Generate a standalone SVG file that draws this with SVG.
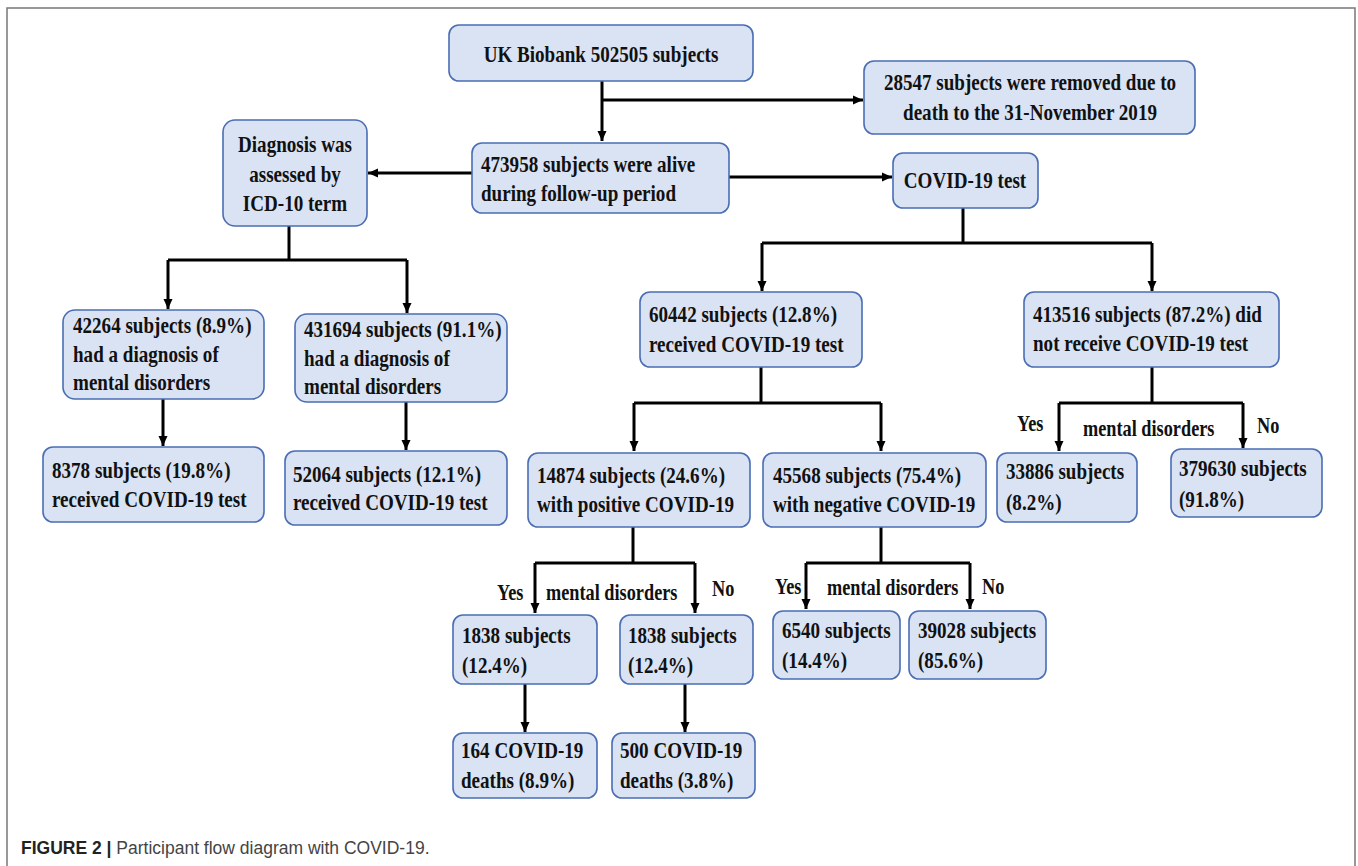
<svg xmlns="http://www.w3.org/2000/svg" width="1358" height="866" viewBox="0 0 1358 866">
<style>
.box{fill:#dae3f3;stroke:#4a6db3;stroke-width:1.6}
.t{font-family:"Liberation Serif","Times New Roman",serif;font-weight:bold;font-size:24px;fill:#111}
.l{font-family:"Liberation Serif","Times New Roman",serif;font-weight:bold;font-size:23px;fill:#111}
.c{text-anchor:middle}
.ln{fill:none;stroke:#000;stroke-width:3}
.ar{marker-end:url(#ah)}
</style>
<defs>
<marker id="ah" markerUnits="userSpaceOnUse" markerWidth="11" markerHeight="10" refX="10" refY="5" orient="auto">
<path d="M0,0.5 L10,5 L0,9.5 z" fill="#000"/>
</marker>
</defs>
<rect width="1358" height="866" fill="#fff"/>
<path d="M7,866 V8 H1355 V866" fill="none" stroke="#777" stroke-width="1.5"/>

<g id="connectors">
<path class="ln ar" d="M602,81 V141"/>
<path class="ln ar" d="M602,100 H863"/>
<path class="ln ar" d="M472,173 H368"/>
<path class="ln ar" d="M729,177 H892"/>
<path class="ln" d="M289,226 V260"/>
<path class="ln" d="M168,260 H407"/>
<path class="ln ar" d="M168,260 V309"/>
<path class="ln ar" d="M407,260 V313"/>
<path class="ln ar" d="M163,399 V446"/>
<path class="ln ar" d="M406,402 V450"/>
<path class="ln" d="M963,208 V243"/>
<path class="ln" d="M762,243 H1152"/>
<path class="ln ar" d="M762,243 V291"/>
<path class="ln ar" d="M1152,243 V291"/>
<path class="ln" d="M761,367 V403"/>
<path class="ln" d="M634,403 H881"/>
<path class="ln ar" d="M634,403 V451"/>
<path class="ln ar" d="M881,403 V451"/>
<path class="ln" d="M1152,367 V403"/>
<path class="ln" d="M1059,403 H1243"/>
<path class="ln ar" d="M1059,403 V451"/>
<path class="ln ar" d="M1243,403 V448"/>
<path class="ln" d="M633,527 V563"/>
<path class="ln" d="M535,563 H695"/>
<path class="ln ar" d="M535,563 V613"/>
<path class="ln ar" d="M695,563 V613"/>
<path class="ln" d="M881,527 V563"/>
<path class="ln" d="M806,563 H970"/>
<path class="ln ar" d="M806,563 V609"/>
<path class="ln ar" d="M970,563 V609"/>
<path class="ln ar" d="M525,684 V732"/>
<path class="ln ar" d="M685,684 V732"/>
<text class="l" transform="matrix(0.795 0 0 1 1017 431)">Yes</text>
<text class="l" transform="matrix(0.795 0 0 1 1083 436)">mental disorders</text>
<text class="l" transform="matrix(0.795 0 0 1 1257 433)">No</text>
<text class="l" transform="matrix(0.795 0 0 1 497 600)">Yes</text>
<text class="l" transform="matrix(0.795 0 0 1 546 600)">mental disorders</text>
<text class="l" transform="matrix(0.795 0 0 1 712 596)">No</text>
<text class="l" transform="matrix(0.795 0 0 1 775 594)">Yes</text>
<text class="l" transform="matrix(0.795 0 0 1 827 595)">mental disorders</text>
<text class="l" transform="matrix(0.795 0 0 1 982 594)">No</text>
</g>

<g id="n-ukb">
<rect class="box" x="449" y="25" width="304" height="56" rx="10"/>
<text class="t c" transform="matrix(0.795 0 0 1 601 62)">UK Biobank 502505 subjects</text>
</g>
<g id="n-removed">
<rect class="box" x="864" y="61" width="331" height="73" rx="10"/>
<text class="t c" transform="matrix(0.795 0 0 1 1030 90)"><tspan x="0" y="0">28547 subjects were removed due to</tspan><tspan x="0" y="30">death to the 31-November 2019</tspan></text>
</g>
<g id="n-alive">
<rect class="box" x="472" y="143" width="257" height="70" rx="10"/>
<text class="t" transform="matrix(0.795 0 0 1 481 172)"><tspan x="0" y="0">473958 subjects were alive</tspan><tspan x="0" y="29">during follow-up period</tspan></text>
</g>
<g id="n-diag">
<rect class="box" x="223" y="120" width="144" height="106" rx="12"/>
<text class="t c" transform="matrix(0.795 0 0 1 295 152)"><tspan x="0" y="0">Diagnosis was</tspan><tspan x="0" y="30">assessed by</tspan><tspan x="0" y="59">ICD-10 term</tspan></text>
</g>
<g id="n-covidtest">
<rect class="box" x="893" y="153" width="145" height="55" rx="10"/>
<text class="t c" transform="matrix(0.795 0 0 1 965 188)">COVID-19 test</text>
</g>
<g id="n-42264">
<rect class="box" x="63" y="310" width="201" height="89" rx="12"/>
<text class="t" transform="matrix(0.795 0 0 1 73 333)"><tspan x="0" y="0">42264 subjects (8.9%)</tspan><tspan x="0" y="29">had a diagnosis of</tspan><tspan x="0" y="57">mental disorders</tspan></text>
</g>
<g id="n-431694">
<rect class="box" x="295" y="314" width="212" height="88" rx="12"/>
<text class="t" transform="matrix(0.795 0 0 1 304 337)"><tspan x="0" y="0">431694 subjects (91.1%)</tspan><tspan x="0" y="29">had a diagnosis of</tspan><tspan x="0" y="57">mental disorders</tspan></text>
</g>
<g id="n-8378">
<rect class="box" x="43" y="447" width="221" height="75" rx="10"/>
<text class="t" transform="matrix(0.795 0 0 1 52 478)"><tspan x="0" y="0">8378 subjects (19.8%)</tspan><tspan x="0" y="29">received COVID-19 test</tspan></text>
</g>
<g id="n-52064">
<rect class="box" x="285" y="451" width="222" height="74" rx="10"/>
<text class="t" transform="matrix(0.795 0 0 1 293 482)"><tspan x="0" y="0">52064 subjects (12.1%)</tspan><tspan x="0" y="28">received COVID-19 test</tspan></text>
</g>
<g id="n-60442">
<rect class="box" x="640" y="292" width="222" height="75" rx="10"/>
<text class="t" transform="matrix(0.795 0 0 1 649 322)"><tspan x="0" y="0">60442 subjects (12.8%)</tspan><tspan x="0" y="30">received COVID-19 test</tspan></text>
</g>
<g id="n-413516">
<rect class="box" x="1024" y="292" width="255" height="75" rx="10"/>
<text class="t" transform="matrix(0.795 0 0 1 1033 322)"><tspan x="0" y="0">413516 subjects (87.2%) did</tspan><tspan x="0" y="29">not receive COVID-19 test</tspan></text>
</g>
<g id="n-14874">
<rect class="box" x="528" y="453" width="222" height="74" rx="10"/>
<text class="t" transform="matrix(0.795 0 0 1 537 483)"><tspan x="0" y="0">14874 subjects (24.6%)</tspan><tspan x="0" y="29">with positive COVID-19</tspan></text>
</g>
<g id="n-45568">
<rect class="box" x="763" y="453" width="223" height="74" rx="10"/>
<text class="t" transform="matrix(0.795 0 0 1 773 483)"><tspan x="0" y="0">45568 subjects (75.4%)</tspan><tspan x="0" y="29">with negative COVID-19</tspan></text>
</g>
<g id="n-33886">
<rect class="box" x="997" y="453" width="140" height="69" rx="10"/>
<text class="t" transform="matrix(0.795 0 0 1 1006 479)"><tspan x="0" y="0">33886 subjects</tspan><tspan x="0" y="31">(8.2%)</tspan></text>
</g>
<g id="n-379630">
<rect class="box" x="1171" y="449" width="151" height="68" rx="10"/>
<text class="t" transform="matrix(0.795 0 0 1 1179 476)"><tspan x="0" y="0">379630 subjects</tspan><tspan x="0" y="31">(91.8%)</tspan></text>
</g>
<g id="n-1838a">
<rect class="box" x="453" y="615" width="144" height="69" rx="10"/>
<text class="t" transform="matrix(0.795 0 0 1 462 643)"><tspan x="0" y="0">1838 subjects</tspan><tspan x="0" y="30">(12.4%)</tspan></text>
</g>
<g id="n-1838b">
<rect class="box" x="620" y="615" width="133" height="69" rx="10"/>
<text class="t" transform="matrix(0.795 0 0 1 628 643)"><tspan x="0" y="0">1838 subjects</tspan><tspan x="0" y="30">(12.4%)</tspan></text>
</g>
<g id="n-6540">
<rect class="box" x="773" y="611" width="127" height="68" rx="10"/>
<text class="t" transform="matrix(0.795 0 0 1 782 638)"><tspan x="0" y="0">6540 subjects</tspan><tspan x="0" y="30">(14.4%)</tspan></text>
</g>
<g id="n-39028">
<rect class="box" x="909" y="611" width="137" height="68" rx="10"/>
<text class="t" transform="matrix(0.795 0 0 1 918 638)"><tspan x="0" y="0">39028 subjects</tspan><tspan x="0" y="30">(85.6%)</tspan></text>
</g>
<g id="n-164">
<rect class="box" x="453" y="733" width="144" height="65" rx="10"/>
<text class="t" transform="matrix(0.795 0 0 1 461 758)"><tspan x="0" y="0">164 COVID-19</tspan><tspan x="0" y="30">deaths (8.9%)</tspan></text>
</g>
<g id="n-500">
<rect class="box" x="612" y="733" width="143" height="65" rx="10"/>
<text class="t" transform="matrix(0.795 0 0 1 620 758)"><tspan x="0" y="0">500 COVID-19</tspan><tspan x="0" y="30">deaths (3.8%)</tspan></text>
</g>

<text x="21" y="854" font-family="'Liberation Sans',Arial,sans-serif" font-size="17.5" fill="#444"><tspan font-weight="bold" fill="#222">FIGURE 2 | </tspan>Participant flow diagram with COVID-19.</text>
</svg>
